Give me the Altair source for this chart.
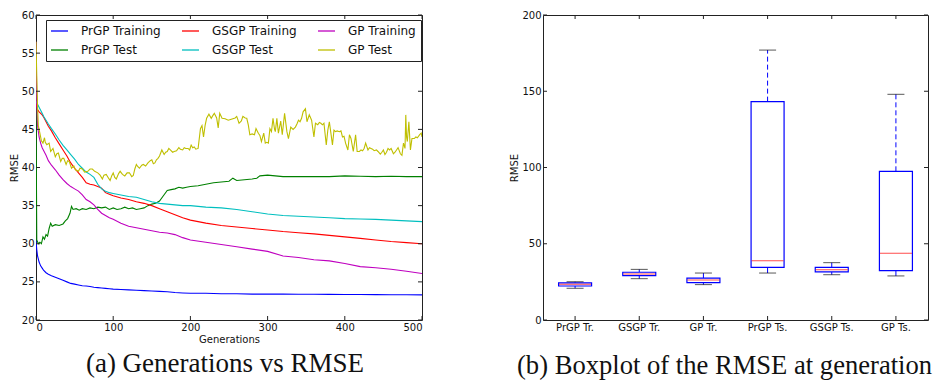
import altair as alt
import pandas as pd

# ---------------- data: panel (a) ----------------
SERIES = ["PrGP Training", "PrGP Test", "GSGP Training", "GSGP Test", "GP Training", "GP Test"]
COLOR_RANGE = ["#0000ff", "#008000", "#ff0000", "#00bfbf", "#bf00bf", "#bfbf00"]

SMOOTH_GEN = [0, 1, 2, 4, 6, 8, 10, 13, 16, 20, 25, 30, 35, 40, 45, 50, 55, 60, 65, 70, 75, 80, 85, 90, 95,
              100, 110, 120, 130, 140, 150, 160, 170, 180, 190, 200, 220, 240, 260, 280, 300, 320, 340, 360,
              380, 400, 420, 440, 460, 480, 500]
PRGP_TRAIN = [30.5, 29.2, 28.4, 27.6, 27.1, 26.8, 26.5, 26.2, 26.0, 25.8, 25.6, 25.4, 25.2, 25.0, 24.8, 24.7,
              24.6, 24.5, 24.45, 24.4, 24.3, 24.25, 24.2, 24.15, 24.1, 24.05, 24.0, 23.95, 23.9, 23.85, 23.8,
              23.75, 23.7, 23.6, 23.55, 23.5, 23.5, 23.45, 23.45, 23.4, 23.4, 23.4, 23.38, 23.37, 23.36, 23.35,
              23.34, 23.33, 23.32, 23.31, 23.3]
GSGP_TRAIN = [48.6, 48.0, 47.6, 47.3, 47.1, 46.9, 46.6, 46.0, 45.4, 44.8, 43.9, 43.1, 42.3, 41.5, 40.6, 39.9,
              39.3, 38.7, 38.0, 37.8, 37.7, 37.5, 37.3, 36.7, 36.5, 36.3, 36.0, 35.8, 35.5, 35.3, 35.0, 34.6,
              34.2, 33.8, 33.4, 33.1, 32.7, 32.4, 32.2, 32.0, 31.8, 31.6, 31.45, 31.3, 31.1, 30.9, 30.7, 30.5,
              30.3, 30.15, 30.0]
GSGP_TEST = [48.7, 48.5, 48.3, 47.9, 47.5, 47.1, 46.7, 46.2, 45.7, 45.1, 44.4, 43.6, 42.9, 42.3, 41.7, 41.1,
             40.4, 39.9, 39.4, 39.1, 38.7, 37.8, 37.2, 36.9, 36.7, 36.6, 36.4, 36.2, 36.1, 35.8, 35.5, 35.3,
             35.2, 35.1, 35.0, 35.0, 34.8, 34.7, 34.5, 34.2, 33.9, 33.7, 33.6, 33.5, 33.4, 33.3, 33.25, 33.2,
             33.1, 33.0, 32.9]
GP_TRAIN = [56.5, 49.0, 45.5, 44.0, 43.2, 42.6, 42.2, 41.6, 40.9, 40.3, 39.7, 39.0, 38.4, 37.9, 37.5, 37.2,
            36.9, 36.4, 35.8, 35.5, 35.1, 34.5, 34.0, 33.7, 33.4, 33.2, 32.7, 32.3, 32.1, 31.9, 31.7, 31.5,
            31.4, 31.2, 30.8, 30.5, 30.2, 29.9, 29.6, 29.3, 29.0, 28.4, 28.2, 27.9, 27.75, 27.4, 27.0, 26.85,
            26.65, 26.4, 26.1]

PRGP_TEST_GEN = [0, 1, 3, 5, 7, 9, 11, 13, 15, 17, 19, 21, 25, 30, 35, 38, 41, 44, 46, 48, 52, 56, 60, 65, 70,
                 75, 80, 85, 90, 95, 100, 105, 110, 115, 120, 125, 130, 135, 140, 145, 150, 155, 160, 165, 170,
                 175, 180, 185, 190, 195, 200, 210, 220, 230, 240, 250, 255, 260, 270, 280, 286, 290, 300, 310,
                 320, 340, 360, 380, 400, 420, 440, 460, 480, 500]
PRGP_TEST = [48.5, 30.5, 30.0, 30.2, 30.0, 30.9, 30.6, 31.2, 31.0, 32.0, 32.7, 32.3, 32.5, 32.4, 32.6, 33.0,
             33.3, 34.0, 34.9, 34.5, 34.6, 34.4, 34.6, 34.5, 34.7, 34.6, 34.8, 34.7, 34.8, 34.5, 34.7, 34.5,
             34.6, 34.8, 34.6, 34.7, 34.5, 34.6, 34.7, 35.0, 35.2, 35.3, 35.6, 36.3, 37.0, 37.1, 37.2, 37.4,
             37.3, 37.4, 37.5, 37.6, 37.8, 38.0, 38.1, 38.2, 38.6, 38.3, 38.4, 38.5, 38.6, 38.9, 39.0, 38.9,
             38.8, 38.8, 38.8, 38.8, 38.9, 38.85, 38.8, 38.85, 38.8, 38.8]

GP_TEST_GEN = [0, 1, 2, 3, 5, 7, 9, 11, 12, 14, 17, 19, 22, 25, 27, 29, 32, 34, 36, 39, 41, 43, 46, 49, 51, 55,
               57, 60, 63, 67, 70, 73, 76, 80, 83, 86, 88, 91, 94, 96, 98, 100, 102, 104, 107, 109, 112, 115,
               118, 121, 124, 126, 128, 130, 132, 134, 137, 139, 142, 145, 148, 150, 152, 154, 156, 158, 160,
               163, 166, 168, 170, 172, 174, 177, 179, 182, 185, 187, 190, 192, 194, 197, 199, 201, 203, 205,
               207, 210, 213, 215, 217, 219, 221, 224, 227, 229, 231, 234, 236, 238, 241, 245, 249, 252, 255,
               258, 260, 263, 266, 268, 271, 273, 275, 277, 280, 283, 285, 288, 290, 292, 295, 297, 299, 301,
               303, 305, 307, 309, 310, 312, 314, 317, 319, 322, 325, 327, 330, 333, 336, 338, 340, 342, 344,
               346, 349, 351, 354, 357, 360, 362, 365, 367, 369, 371, 373, 376, 378, 380, 382, 384, 386, 388,
               390, 393, 395, 397, 399, 401, 404, 406, 408, 411, 414, 416, 419, 421, 423, 425, 427, 430, 432,
               434, 436, 438, 441, 443, 446, 448, 450, 452, 454, 456, 458, 460, 463, 465, 467, 469, 472, 474,
               476, 478, 479, 480, 481, 483, 485, 487, 490, 492, 494, 497, 499, 500]
GP_TEST = [56.5, 52.0, 48.0, 45.5, 44.5, 43.5, 43.2, 43.9, 43.3, 43.0, 43.2, 42.1, 42.5, 41.4, 41.8, 41.9, 40.8,
           41.2, 41.2, 40.4, 40.9, 40.8, 39.9, 40.2, 39.7, 39.5, 39.9, 39.8, 39.4, 39.5, 39.8, 39.8, 39.5, 39.3,
           39.0, 38.5, 39.0, 39.1, 38.6, 38.3, 38.9, 39.3, 38.7, 38.5, 39.2, 39.5, 39.1, 38.9, 39.3, 39.3, 38.8,
           38.95, 39.8, 40.4, 40.1, 39.9, 40.3, 40.4, 40.2, 40.6, 40.9, 41.0, 40.5, 40.6, 41.0, 41.2, 41.5, 42.3,
           41.7, 42.0, 42.1, 42.5, 42.3, 42.0, 42.1, 42.2, 42.6, 42.4, 42.3, 42.6, 42.5, 42.5, 42.3, 42.95, 42.6,
           42.7, 42.4, 42.5, 45.1, 45.5, 44.0, 45.5, 46.45, 47.0, 46.45, 46.8, 47.1, 46.5, 45.2, 47.1, 46.45,
           46.4, 46.2, 46.3, 46.4, 46.5, 46.7, 45.8, 46.1, 46.7, 46.5, 46.45, 45.6, 44.3, 44.4, 44.3, 45.1, 44.5,
           44.2, 43.4, 44.5, 43.2, 43.3, 43.2, 45.1, 44.7, 46.45, 45.0, 44.7, 46.45, 44.5, 46.1, 44.3, 47.1,
           44.7, 43.8, 45.3, 45.0, 45.3, 45.7, 46.2, 46.0, 46.45, 47.3, 47.7, 46.0, 46.9, 46.2, 44.0, 45.8, 45.6,
           45.9, 45.8, 45.6, 45.8, 42.95, 44.9, 46.0, 44.5, 42.95, 44.9, 44.7, 44.8, 44.7, 44.8, 44.0, 44.1,
           43.2, 42.3, 44.3, 43.8, 42.1, 44.3, 42.1, 42.1, 42.3, 42.2, 42.5, 43.2, 42.3, 42.6, 42.5, 42.4, 42.2,
           42.3, 42.1, 41.75, 42.0, 42.3, 41.7, 42.0, 42.5, 42.3, 42.5, 41.8, 42.0, 42.3, 42.6, 41.8, 41.6, 43.2,
           42.5, 46.9, 44.0, 43.4, 46.0, 42.3, 43.8, 43.8, 44.0, 43.9, 44.3, 44.5, 44.0]

X_TICKS_A = [0, 100, 200, 300, 400, 500]
Y_TICKS_A = [20, 25, 30, 35, 40, 45, 50, 55, 60]

# ---------------- data: panel (b) ----------------
BOX_CATS = ["PrGP Tr.", "GSGP Tr.", "GP Tr.", "PrGP Ts.", "GSGP Ts.", "GP Ts."]
WHISK_LO = [20.8, 27.1, 23.2, 30.8, 29.7, 28.9]
Q1 = [22.3, 29.1, 24.5, 34.5, 31.5, 32.4]
MEDIAN = [23.4, 30.2, 26.2, 38.9, 33.0, 43.7]
Q3 = [24.4, 31.3, 27.5, 143.2, 34.5, 97.5]
WHISK_HI = [25.1, 33.2, 30.8, 177.0, 37.6, 148.0]
Y_TICKS_B = [0, 50, 100, 150, 200]

# ---------------- build tables ----------------
rows = []
def add(name, gens, vals):
    for g, v in zip(gens, vals):
        rows.append({"gen": g, "rmse": v, "series": name})

add("PrGP Training", SMOOTH_GEN, PRGP_TRAIN)
add("PrGP Test", PRGP_TEST_GEN, PRGP_TEST)
add("GSGP Training", SMOOTH_GEN, GSGP_TRAIN)
add("GSGP Test", SMOOTH_GEN, GSGP_TEST)
add("GP Training", SMOOTH_GEN, GP_TRAIN)
add("GP Test", GP_TEST_GEN, GP_TEST)
df_lines = pd.DataFrame(rows)

df_box = pd.DataFrame({"cat": BOX_CATS, "lo": WHISK_LO, "q1": Q1, "med": MEDIAN, "q3": Q3, "hi": WHISK_HI})

FRAME = "#222222"
W_A, H_A = 386, 305
W_B, H_B = 385, 305
TL = 4

# ---------------- panel (a) ----------------
xs = alt.Scale(domain=[0, 500], nice=False, zero=False)
ys = alt.Scale(domain=[20, 60], nice=False, zero=False)
ax_xa = alt.Axis(values=X_TICKS_A, title="Generations")
ax_ya = alt.Axis(values=Y_TICKS_A, title="RMSE")

lines = alt.Chart(df_lines).mark_line(strokeWidth=1.1, clip=True).encode(
    x=alt.X("gen:Q", scale=xs, axis=ax_xa),
    y=alt.Y("rmse:Q", scale=ys, axis=ax_ya),
    color=alt.Color(
        "series:N",
        scale=alt.Scale(domain=SERIES, range=COLOR_RANGE),
        legend=alt.Legend(
            orient="none", legendX=10, legendY=5, columns=3, title=None,
            strokeColor=FRAME, fillColor="white", padding=5, cornerRadius=0,
            symbolType="M-1.2,0H2.2", symbolSize=100, symbolStrokeWidth=1.3,
            labelFont="DejaVu Sans", labelFontSize=12, labelColor="#111",
            labelOffset=18, columnPadding=18, rowPadding=7,
        ),
    ),
)

df_yt_a = pd.DataFrame({"v": Y_TICKS_A})
df_xt_a = pd.DataFrame({"g": X_TICKS_A})
tick_y_l = alt.Chart(df_yt_a).mark_rule(color=FRAME, strokeWidth=1).encode(
    y=alt.Y("v:Q", scale=ys, axis=ax_ya), x=alt.value(0), x2=alt.value(TL))
tick_y_r = alt.Chart(df_yt_a).mark_rule(color=FRAME, strokeWidth=1).encode(
    y=alt.Y("v:Q", scale=ys, axis=ax_ya), x=alt.value(W_A - TL), x2=alt.value(W_A))
tick_x_b = alt.Chart(df_xt_a).mark_rule(color=FRAME, strokeWidth=1).encode(
    x=alt.X("g:Q", scale=xs, axis=ax_xa), y=alt.value(H_A), y2=alt.value(H_A - TL))
tick_x_t = alt.Chart(df_xt_a).mark_rule(color=FRAME, strokeWidth=1).encode(
    x=alt.X("g:Q", scale=xs, axis=ax_xa), y=alt.value(0), y2=alt.value(TL))

left = alt.layer(lines, tick_y_l, tick_y_r, tick_x_b, tick_x_t).properties(
    width=W_A, height=H_A,
    title=alt.TitleParams("(a) Generations vs RMSE", orient="bottom", anchor="middle",
                          frame="group", offset=7, dx=-4),
)

# ---------------- panel (b) ----------------
ax_xb = alt.Axis(labelAngle=0, title=None)
ax_yb = alt.Axis(values=Y_TICKS_B, title="RMSE")
xb = alt.X("cat:N", sort=BOX_CATS, scale=alt.Scale(paddingInner=0, paddingOuter=0), axis=ax_xb)
ybs = alt.Scale(domain=[0, 200], nice=False)

base_b = alt.Chart(df_box)
wh_hi = base_b.mark_rule(color="#0000ff", strokeWidth=1, strokeDash=[5, 3]).encode(
    x=xb, y=alt.Y("q3:Q", scale=ybs, axis=ax_yb), y2="hi:Q")
wh_lo = base_b.mark_rule(color="#0000ff", strokeWidth=1, strokeDash=[5, 3]).encode(
    x=xb, y=alt.Y("lo:Q", scale=ybs, axis=ax_yb), y2="q1:Q")
box = base_b.mark_bar(size=33, fill="white", stroke="#0000ff", strokeWidth=1.2).encode(
    x=xb, y=alt.Y("q1:Q", scale=ybs, axis=ax_yb), y2="q3:Q")
med = base_b.mark_tick(color="#ff0000", size=32, thickness=1).encode(
    x=xb, y=alt.Y("med:Q", scale=ybs, axis=ax_yb))
cap_hi = base_b.mark_tick(color="#111111", size=17, thickness=1).encode(
    x=xb, y=alt.Y("hi:Q", scale=ybs, axis=ax_yb))
cap_lo = base_b.mark_tick(color="#111111", size=17, thickness=1).encode(
    x=xb, y=alt.Y("lo:Q", scale=ybs, axis=ax_yb))

df_yt_b = pd.DataFrame({"v": Y_TICKS_B})
tick_b_l = alt.Chart(df_yt_b).mark_rule(color=FRAME, strokeWidth=1).encode(
    y=alt.Y("v:Q", scale=ybs, axis=ax_yb), x=alt.value(0), x2=alt.value(TL))
tick_b_r = alt.Chart(df_yt_b).mark_rule(color=FRAME, strokeWidth=1).encode(
    y=alt.Y("v:Q", scale=ybs, axis=ax_yb), x=alt.value(W_B - TL), x2=alt.value(W_B))
tick_b_b = base_b.mark_rule(color=FRAME, strokeWidth=1).encode(
    x=xb, y=alt.value(H_B), y2=alt.value(H_B - TL))
tick_b_t = base_b.mark_rule(color=FRAME, strokeWidth=1).encode(
    x=xb, y=alt.value(0), y2=alt.value(TL))

right = alt.layer(wh_hi, wh_lo, box, med, cap_hi, cap_lo,
                  tick_b_l, tick_b_r, tick_b_b, tick_b_t).properties(
    width=W_B, height=H_B,
    title=alt.TitleParams("(b) Boxplot of the RMSE at generation", orient="bottom", anchor="start",
                          frame="group", offset=21, dx=-26, fontSize=26.6),
)

chart = alt.hconcat(left, right, spacing=86).properties(
    padding={"left": 0, "top": 1, "right": 0, "bottom": 0}
).configure_view(
    stroke=FRAME, strokeWidth=1
).configure_axis(
    domain=False, ticks=False, grid=False,
    labelFont="DejaVu Sans", labelFontSize=10, labelColor="#111",
    titleFont="DejaVu Sans", titleFontSize=10, titleFontWeight="normal", titleColor="#111",
    labelPadding=2, titlePadding=2,
).configure_title(
    font="Liberation Serif", fontSize=27, fontWeight="normal", color="#111",
)

chart.save("out.html", embed_options={"renderer": "svg", "actions": False})
